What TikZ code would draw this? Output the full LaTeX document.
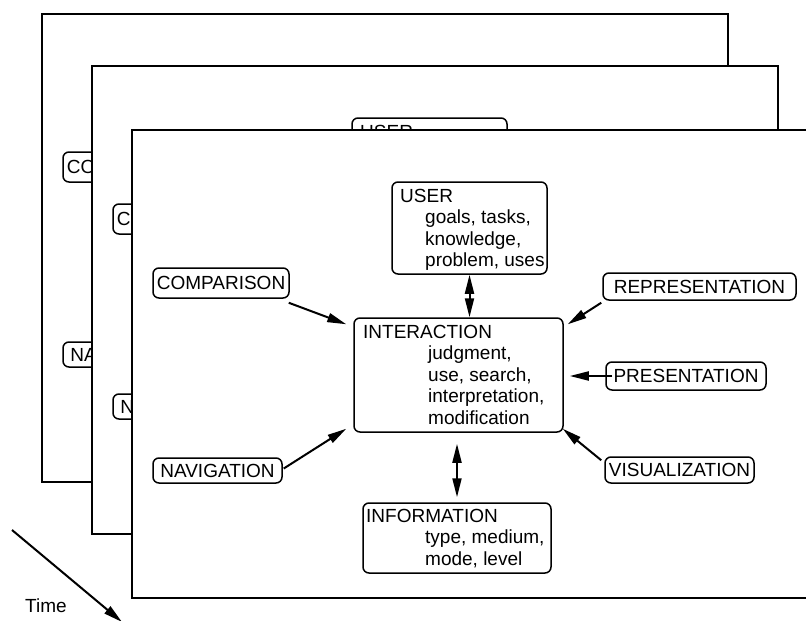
\documentclass[tikz,border=0pt]{standalone}
\usepackage{fontspec}
\setmainfont{Liberation Sans}
\usetikzlibrary{arrows.meta,calc}

\tikzset{
  sheet/.style={draw, fill=white, line width=2.4pt},
  box/.style={draw, fill=white, rounded corners=6pt, line width=1.5pt, inner sep=0pt},
  tag/.style={box, font=\fontsize{19}{21.6}\selectfont},
  txt/.style={inner sep=0pt, anchor=base west, font=\fontsize{19}{21.6}\selectfont},
  head/.tip={Triangle[length=19pt,width=9pt]},
  arr/.style={line width=2pt, -head},
  dbl/.style={line width=2pt, head-head},
}

% Parts of one sheet of the model
\newcommand\sheetframe{\draw[sheet] (132,130) rectangle (818,598);}
\newcommand\userbox{\node[box, minimum width=155pt, minimum height=92pt] (user) at (469.5,228) {};}
\newcommand\lefttags{%
  \node[tag, minimum width=136pt, minimum height=30pt] (comparison) at (221,283) {COMPARISON};
  \node[tag, minimum width=129pt, minimum height=25pt] (navigation) at (217.5,470.5) {NAVIGATION};
}

% The complete front sheet: central INTERACTION box and its six neighbours
\newcommand\modelsheet{%
  \sheetframe
  \userbox
  \node[txt] (user-text) at (400,202) {\begin{tabular}[t]{@{}l@{}}USER\\
      \hspace{25pt}goals, tasks,\\ \hspace{25pt}knowledge,\\ \hspace{25pt}problem, uses\end{tabular}};
  \node[box, minimum width=209pt, minimum height=114pt] (interaction) at (458.5,375) {};
  \node[txt] (interaction-text) at (363,338) {\begin{tabular}[t]{@{}l@{}}INTERACTION\\
      \hspace{65pt}judgment,\\ \hspace{65pt}use, search,\\ \hspace{65pt}interpretation,\\
      \hspace{65pt}modification\end{tabular}};
  \node[box, minimum width=188pt, minimum height=70pt] (information) at (457,538) {};
  \node[txt] (information-text) at (366,522) {\begin{tabular}[t]{@{}l@{}}INFORMATION\\
      \hspace{59pt}type, medium,\\ \hspace{59pt}mode, level\end{tabular}};
  \lefttags
  \node[tag, minimum width=193pt, minimum height=27pt] (representation) at (699.5,286.5) {REPRESENTATION};
  \node[tag, minimum width=160pt, minimum height=28pt] (presentation) at (686,376) {PRESENTATION};
  \node[tag, minimum width=149pt, minimum height=26pt] (visualization) at (679.5,470) {VISUALIZATION};
  % connectors
  \draw[dbl] (user.south) -- (user.south |- interaction.north);
  \draw[dbl] ($(interaction.south -| information.north)+(0,11)$) -- ($(information.north)+(0,-5)$);
  \draw[arr] ($(comparison.south east)+(-1,4)$) -- ($(interaction.north west)+(-7,7)$);
  \draw[arr] ($(navigation.east)+(1,-2)$) -- ($(interaction.south west)+(-7,-4)$);
  \draw[arr] ($(representation.south west)+(-1,2)$) -- ($(interaction.north east)+(4,7)$);
  \draw[arr] ($(presentation.west)+(7,0)$) -- ($(interaction.east)+(6,1)$);
  \draw[arr] ($(visualization.north west)+(-3,4)$) -- ($(interaction.south east)+(-1,-4)$);
}

\begin{document}
\begin{tikzpicture}[x=1pt, y=-1pt]
  \useasboundingbox (0,0) rectangle (806,621);
  % earlier sheets, stacked behind the current one
  \begin{scope}[shift={(-90,-116)}, name prefix=back-]
    \sheetframe
    \userbox
    \lefttags
  \end{scope}
  \begin{scope}[shift={(-40,-64)}, name prefix=mid-]
    \sheetframe
    \userbox
    \node[txt] (user-title) at (400,202) {USER};
    \lefttags
  \end{scope}
  \modelsheet
  % time axis
  \coordinate (time-start) at (12,530);
  \coordinate (time-end) at (122,622);
  \draw[arr] (time-start) -- (time-end);
  \node[txt] (time) at (25,612) {Time};
\end{tikzpicture}
\end{document}
